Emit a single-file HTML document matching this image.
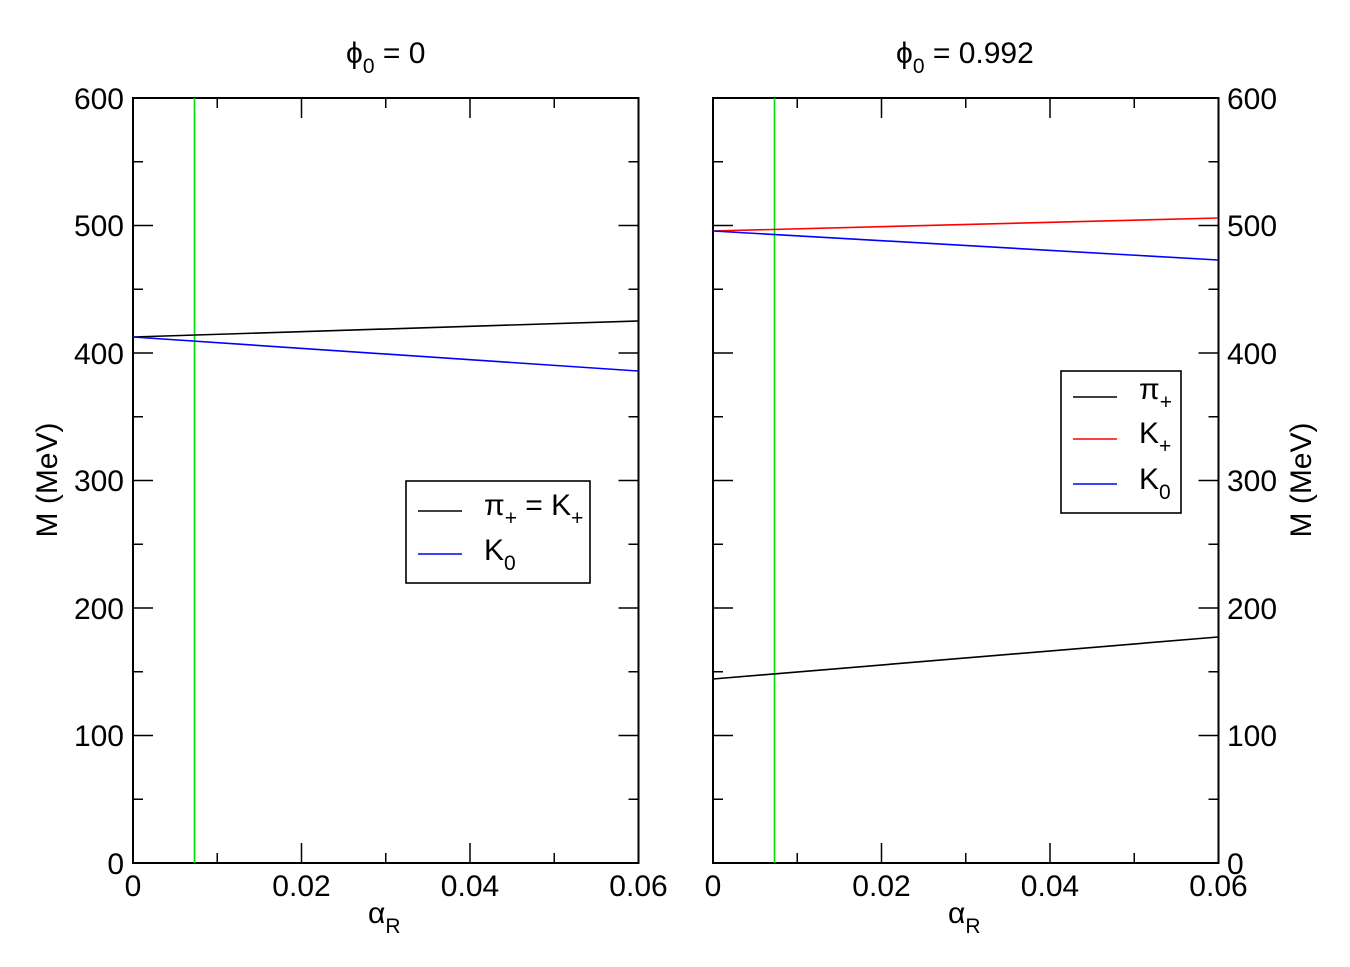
<!DOCTYPE html>
<html><head><meta charset="utf-8"><style>body{margin:0;background:#fff}svg{display:block}text{font-family:"Liberation Sans",Arial,sans-serif;fill:#000}</style></head><body>
<svg width="1350" height="967" xmlns="http://www.w3.org/2000/svg">
<g stroke="#000" stroke-width="2" fill="none">
<rect x="133" y="98" width="505.5" height="765"/>
<rect x="713" y="98" width="505.5" height="765"/>
</g>
<g stroke="#000" stroke-width="1.5">
<path d="M133,98h20M133,225.5h20M133,353h20M133,480.5h20M133,608h20M133,735.5h20
M133,161.75h10M133,289.25h10M133,416.75h10M133,544.25h10M133,671.75h10M133,799.25h10
M638.5,98h-20M638.5,225.5h-20M638.5,353h-20M638.5,480.5h-20M638.5,608h-20M638.5,735.5h-20
M638.5,161.75h-10M638.5,289.25h-10M638.5,416.75h-10M638.5,544.25h-10M638.5,671.75h-10M638.5,799.25h-10
M301.5,863v-20M470,863v-20M217.25,863v-10M385.75,863v-10M554.25,863v-10
M301.5,98v20M470,98v20M217.25,98v10M385.75,98v10M554.25,98v10"/>
<path d="M713,98h20M713,225.5h20M713,353h20M713,480.5h20M713,608h20M713,735.5h20
M713,161.75h10M713,289.25h10M713,416.75h10M713,544.25h10M713,671.75h10M713,799.25h10
M1218.5,98h-20M1218.5,225.5h-20M1218.5,353h-20M1218.5,480.5h-20M1218.5,608h-20M1218.5,735.5h-20
M1218.5,161.75h-10M1218.5,289.25h-10M1218.5,416.75h-10M1218.5,544.25h-10M1218.5,671.75h-10M1218.5,799.25h-10
M881.5,863v-20M1050,863v-20M797.25,863v-10M965.75,863v-10M1134.25,863v-10
M881.5,98v20M1050,98v20M797.25,98v10M965.75,98v10M1134.25,98v10"/>
</g>
<g stroke-width="1.6" fill="none">
<line x1="194.5" y1="98" x2="194.5" y2="863" stroke="#00dd00"/>
<line x1="774.5" y1="98" x2="774.5" y2="863" stroke="#00dd00"/>
<line x1="133" y1="337" x2="638" y2="321" stroke="#000"/>
<line x1="133" y1="337" x2="638" y2="371" stroke="#0000ff"/>
<line x1="713" y1="231" x2="1218" y2="218" stroke="#ff0000"/>
<line x1="713" y1="231" x2="1218" y2="260" stroke="#0000ff"/>
<line x1="713" y1="679" x2="1218" y2="637" stroke="#000"/>
</g>
<g font-size="30">
<g text-anchor="end">
<text x="124" y="109">600</text><text x="124" y="236">500</text><text x="124" y="364">400</text><text x="124" y="491">300</text><text x="124" y="619">200</text><text x="124" y="746">100</text><text x="124" y="874">0</text>
</g>
<g text-anchor="start">
<text x="1227" y="109">600</text><text x="1227" y="236">500</text><text x="1227" y="364">400</text><text x="1227" y="491">300</text><text x="1227" y="619">200</text><text x="1227" y="746">100</text><text x="1227" y="874">0</text>
</g>
<g text-anchor="middle">
<text x="133" y="896">0</text><text x="301.5" y="896">0.02</text><text x="470" y="896">0.04</text><text x="638.5" y="896">0.06</text>
<text x="713" y="896">0</text><text x="881.5" y="896">0.02</text><text x="1050" y="896">0.04</text><text x="1218.5" y="896">0.06</text>
</g>
<text x="368" y="923">α<tspan font-size="21" dy="10">R</tspan></text>
<text x="948" y="923">α<tspan font-size="21" dy="10">R</tspan></text>
<text x="346" y="63">ϕ<tspan font-size="21" dy="10">0</tspan><tspan dy="-10"> = 0</tspan></text>
<text x="896" y="63">ϕ<tspan font-size="21" dy="10">0</tspan><tspan dy="-10"> = 0.992</tspan></text>
<text transform="translate(57,480) rotate(-90)" text-anchor="middle">M (MeV)</text>
<text transform="translate(1311,480) rotate(-90)" text-anchor="middle">M (MeV)</text>
</g>
<rect x="406" y="481" width="184" height="102" fill="#fff" stroke="#000" stroke-width="1.6"/>
<line x1="418" y1="511" x2="462" y2="511" stroke="#000" stroke-width="1.6"/>
<line x1="418" y1="554" x2="462" y2="554" stroke="#0000ff" stroke-width="1.6"/>
<g font-size="30">
<text x="484" y="515">π<tspan font-size="21" dy="10">+</tspan><tspan dy="-10"> = K</tspan><tspan font-size="21" dy="10">+</tspan></text>
<text x="484" y="560">K<tspan font-size="21" dy="10">0</tspan></text>
</g>
<rect x="1061" y="371" width="120" height="142" fill="#fff" stroke="#000" stroke-width="1.6"/>
<line x1="1073" y1="397" x2="1117" y2="397" stroke="#000" stroke-width="1.6"/>
<line x1="1073" y1="439" x2="1117" y2="439" stroke="#ff0000" stroke-width="1.6"/>
<line x1="1073" y1="484" x2="1117" y2="484" stroke="#0000ff" stroke-width="1.6"/>
<g font-size="30">
<text x="1139" y="399">π<tspan font-size="21" dy="10">+</tspan></text>
<text x="1139" y="443">K<tspan font-size="21" dy="10">+</tspan></text>
<text x="1139" y="489">K<tspan font-size="21" dy="10">0</tspan></text>
</g>
</svg>
</body></html>
